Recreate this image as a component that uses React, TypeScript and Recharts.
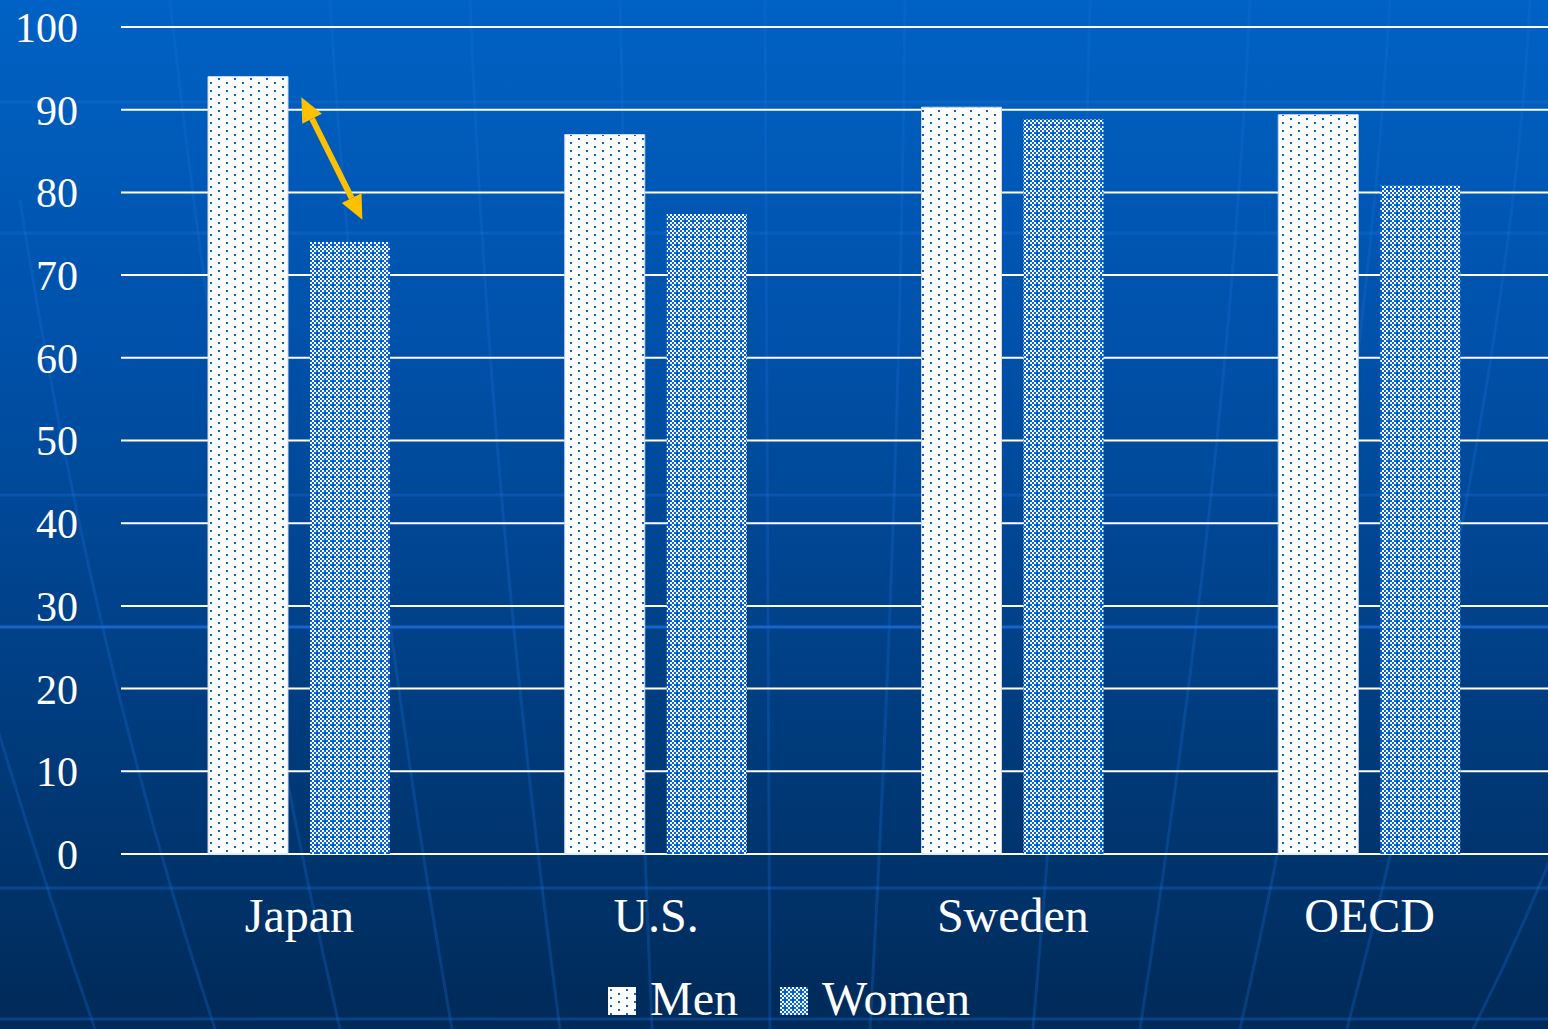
import React from 'react';
import {
  BarChart, Bar, XAxis, YAxis, CartesianGrid, Legend, ReferenceLine
} from 'recharts';

const countries = ['Japan', 'U.S.', 'Sweden', 'OECD'];
const menRates = [94, 87, 90.3, 89.4];
const womenRates = [74, 77.4, 88.8, 80.8];
const yTicks = [0, 10, 20, 30, 40, 50, 60, 70, 80, 90, 100];

// gap arrow for Japan, men -> women
const arrowFrom = 91.5;
const arrowTo = 76.7;

const data = countries.map((name, i) => ({ name, men: menRates[i], women: womenRates[i] }));

const W = 1548;
const H = 1029;
const FONT = '"Liberation Serif", "Times New Roman", serif';
const DOT = '#0563d6';
const GOLD = '#ffc000';

// faint globe lines behind the chart
const latitudes = [102, 233, 495, 627, 888, 1019];
const longitudes = [
  'M -120 300 Q -20 700 95 1029',
  'M 20 200 Q 90 650 215 1029',
  'M 170 0 Q 230 550 340 1029',
  'M 330 0 Q 360 500 452 1029',
  'M 470 0 Q 490 500 560 1029',
  'M 620 0 Q 630 500 652 1029',
  'M 765 0 L 770 1029',
  'M 905 0 Q 900 500 870 1029',
  'M 1090 0 Q 1080 500 1033 1029',
  'M 1250 0 Q 1230 450 1140 1029',
  'M 1390 0 Q 1360 500 1240 1029',
  'M 1530 0 Q 1510 400 1347 1029',
  'M 1700 300 Q 1640 700 1473 1029',
];

const Patterns = () => (
  <defs>
    <pattern id="menFill" patternUnits="userSpaceOnUse" width={16} height={8}>
      <rect width={16} height={8} fill="#fff" />
      <rect x={2} y={2} width={2} height={2} fill={DOT} />
      <rect x={10} y={6} width={2} height={2} fill={DOT} />
    </pattern>
    <pattern id="womenFill" patternUnits="userSpaceOnUse" width={8} height={8}>
      <rect width={8} height={8} fill="#fff" />
      {[0, 2, 4, 6].map((x) =>
        [0, 2, 4, 6].map((y) =>
          ((x + y) / 2) % 2 === 1 ? <rect key={`${x}-${y}`} x={x} y={y} width={2} height={2} fill={DOT} /> : null
        )
      )}
      <rect x={2} y={4} width={6} height={2} fill={DOT} />
      <rect x={4} y={2} width={2} height={6} fill={DOT} />
    </pattern>
  </defs>
);

const DoubleArrow = (props: any) => {
  const { x1, y1, y2 } = props;
  if (x1 == null || y1 == null || y2 == null) return null;
  const ax = x1 + 2;
  const bx = x1 + 63;
  const dx = bx - ax;
  const dy = y2 - y1;
  const len = Math.sqrt(dx * dx + dy * dy);
  const ux = dx / len;
  const uy = dy / len;
  const nx = -uy;
  const ny = ux;
  const hl = 24;
  const hw = 11;
  const head = (tx: number, ty: number, s: number) => {
    const bxp = tx + s * ux * hl;
    const byp = ty + s * uy * hl;
    return `${tx},${ty} ${bxp + nx * hw},${byp + ny * hw} ${bxp - nx * hw},${byp - ny * hw}`;
  };
  return (
    <g>
      <line
        x1={ax + ux * hl} y1={y1 + uy * hl}
        x2={bx - ux * hl} y2={y2 - uy * hl}
        stroke={GOLD} strokeWidth={6}
      />
      <polygon points={head(ax, y1, 1)} fill={GOLD} />
      <polygon points={head(bx, y2, -1)} fill={GOLD} />
    </g>
  );
};

const LegendBox = ({ id }: { id: string }) => (
  <svg width={28} height={28} style={{ display: 'block' }}>
    <rect width={28} height={28} fill={`url(#${id})`} />
  </svg>
);

const legendText: React.CSSProperties = { position: 'absolute', top: 8, fontSize: 48, lineHeight: '44px', whiteSpace: 'nowrap' };

const renderLegend = () => (
  <div style={{ position: 'relative', width: 400, height: 60, fontFamily: FONT, color: '#fff' }}>
    <div style={{ position: 'absolute', left: 0, top: 18 }}><LegendBox id="menFill" /></div>
    <div style={{ ...legendText, left: 42 }}>Men</div>
    <div style={{ position: 'absolute', left: 172, top: 18 }}><LegendBox id="womenFill" /></div>
    <div style={{ ...legendText, left: 214 }}>Women</div>
  </div>
);

export default function App() {
  return (
    <div
      style={{
        position: 'absolute', left: 0, top: 0, width: W, height: H, overflow: 'hidden',
        background: 'linear-gradient(to bottom, #0062c4 0%, #0050a8 35%, #003c7e 70%, #002a58 100%)',
      }}
    >
      <svg width={W} height={H} style={{ position: 'absolute', left: 0, top: 0 }}>
        {latitudes.map((y) => (
          <line key={y} x1={0} x2={W} y1={y} y2={y} stroke="#1a6fd8" strokeOpacity={y === 627 ? 0.8 : 0.35} strokeWidth={3} />
        ))}
        {longitudes.map((d, i) => (
          <path key={i} d={d} fill="none" stroke="#1a6fd8" strokeOpacity={0.28} strokeWidth={3} />
        ))}
      </svg>
      <div style={{ position: 'absolute', left: 0, top: 0 }}>
        <BarChart
          width={W}
          height={H}
          data={data}
          margin={{ top: 27, right: 0, left: 0, bottom: 0 }}
          barSize={80}
          barGap={22}
        >
          <Patterns />
          <CartesianGrid horizontal vertical={false} stroke="#ffffff" strokeWidth={2} strokeOpacity={1} />
          <XAxis
            dataKey="name"
            height={115}
            axisLine={false}
            tickLine={false}
            tickSize={0}
            tickMargin={44}
            tick={{ fill: '#fff', fontSize: 48, fontFamily: FONT }}
          />
          <YAxis
            width={121}
            domain={[0, 100]}
            ticks={yTicks}
            axisLine={false}
            tickLine={false}
            tickSize={0}
            tickMargin={43}
            tick={{ fill: '#fff', fontSize: 42, fontFamily: FONT }}
          />
          <Bar dataKey="men" name="Men" fill="url(#menFill)" stroke="#c8d8ee" strokeWidth={1} isAnimationActive={false} />
          <Bar dataKey="women" name="Women" fill="url(#womenFill)" isAnimationActive={false} />
          <ReferenceLine
            segment={[{ x: 'Japan', y: arrowFrom }, { x: 'Japan', y: arrowTo }]}
            shape={DoubleArrow}
          />
          <Legend
            verticalAlign="bottom"
            content={renderLegend}
            wrapperStyle={{ left: 608, bottom: 0, width: 400, height: 60 }}
          />
        </BarChart>
      </div>
    </div>
  );
}
